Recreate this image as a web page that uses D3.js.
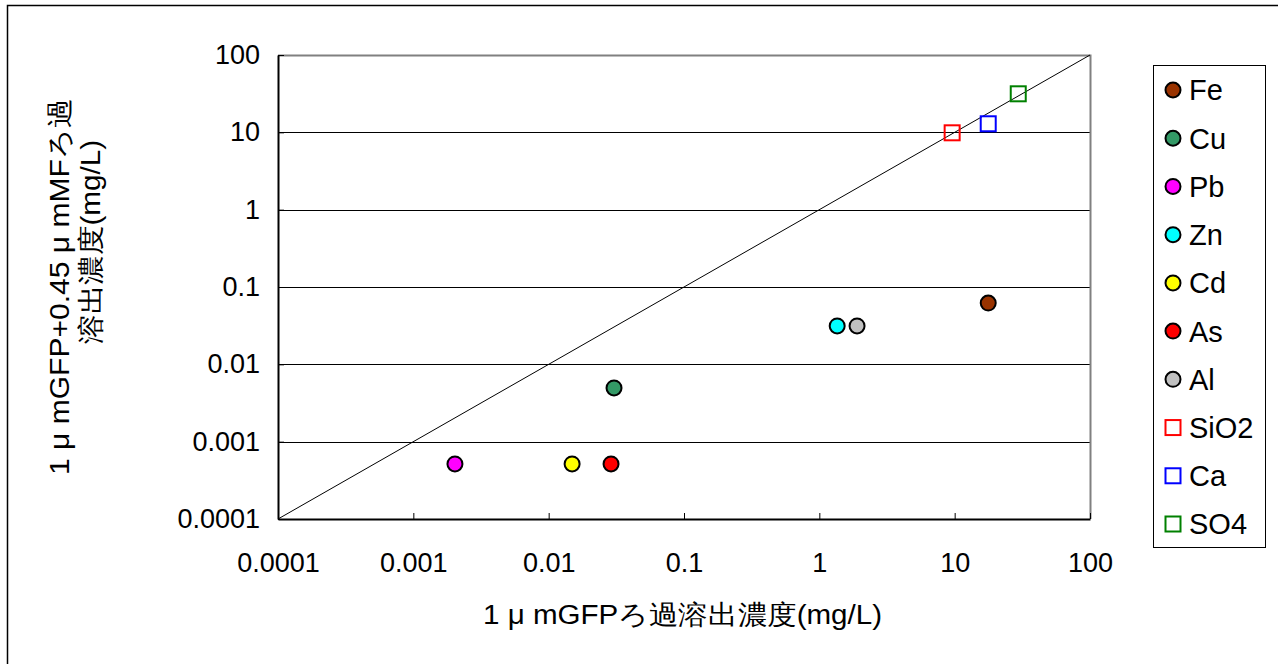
<!DOCTYPE html>
<html>
<head>
<meta charset="utf-8">
<script src="https://cdn.jsdelivr.net/npm/d3@7"></script>
<style>
  body { margin: 0; background: #fff; }
  text { font-family: "Liberation Sans", Arial, sans-serif; fill: #000; }
</style>
</head>
<body>
<div id="chart"></div>
<script>
// data
var names   = ["Fe", "Cu", "Pb", "Zn", "Cd", "As", "Al", "SiO2", "Ca", "SO4"];
var xValues = [17.7, 0.0304, 0.00203, 1.355, 0.0149, 0.0289, 1.90, 9.58, 17.7, 29.5];
var yValues = [0.062, 0.00495, 0.000515, 0.0314, 0.000515, 0.000515, 0.0314, 9.86, 12.9, 31.5];
var shapes  = ["circle", "circle", "circle", "circle", "circle", "circle", "circle", "square", "square", "square"];
var colors  = ["#993300", "#339966", "#ff00ff", "#00ffff", "#ffff00", "#ff0000", "#c0c0c0", "#ff0000", "#0000ff", "#008000"];
var tickValues = [0.0001, 0.001, 0.01, 0.1, 1, 10, 100];
var tickLabels = ["0.0001", "0.001", "0.01", "0.1", "1", "10", "100"];

var width = 1278, height = 664;
var margin = {top: 55, right: 188, bottom: 145, left: 278};

var svg = d3.select("#chart").append("svg")
    .attr("width", width)
    .attr("height", height);

// outer frame of the chart object (cut off at right / bottom)
svg.append("rect")
    .attr("x", 7.5).attr("y", 5.5)
    .attr("width", width + 20).attr("height", height + 20)
    .attr("fill", "none").attr("stroke", "#000").attr("stroke-width", 1.5);

var x = d3.scaleLog()
    .domain([0.0001, 100])
    .range([margin.left, width - margin.right]);

var y = d3.scaleLog()
    .domain([0.0001, 100])
    .range([height - margin.bottom, margin.top]);

var g = svg.append("g");

// horizontal grid lines
g.selectAll(".grid")
    .data(tickValues.slice(1, -1))
    .enter().append("line")
    .attr("class", "grid")
    .attr("x1", x.range()[0]).attr("x2", x.range()[1])
    .attr("y1", function(d){ return Math.round(y(d)) + 0.5; })
    .attr("y2", function(d){ return Math.round(y(d)) + 0.5; })
    .attr("stroke", "#000").attr("stroke-width", 1);

// top and right border (gray)
g.append("path")
    .attr("d", "M" + x.range()[0] + "," + (y.range()[1] + 0.5) +
               "H" + (x.range()[1] + 0.5) +
               "V" + y.range()[0])
    .attr("fill", "none").attr("stroke", "#808080").attr("stroke-width", 2);

// 1:1 line
g.append("line")
    .attr("x1", x(0.0001)).attr("y1", y(0.0001))
    .attr("x2", x(100)).attr("y2", y(100))
    .attr("stroke", "#000").attr("stroke-width", 1);

// axes
var xAxis = d3.axisBottom(x)
    .tickValues(tickValues)
    .tickFormat(function(d, i){ return tickLabels[i]; })
    .tickSizeInner(-6).tickSizeOuter(0).tickPadding(34);

var yAxis = d3.axisLeft(y)
    .tickValues(tickValues)
    .tickFormat(function(d, i){ return tickLabels[i]; })
    .tickSizeInner(-6).tickSizeOuter(0).tickPadding(18);

var gx = g.append("g")
    .attr("transform", "translate(0," + y.range()[0] + ")")
    .call(xAxis);
var gy = g.append("g")
    .attr("transform", "translate(" + x.range()[0] + ",0)")
    .call(yAxis);

[gx, gy].forEach(function(a){
    a.select(".domain").attr("stroke", "#000").attr("stroke-width", 2);
    a.selectAll(".tick line").attr("stroke", "#000").attr("stroke-width", 1);
    a.selectAll(".tick text")
        .style("font-family", "'Liberation Sans', Arial, sans-serif")
        .style("font-size", "27px").attr("fill", "#000");
});

// points
function drawMarker(sel, shape, color, cx, cy){
    if (shape === "circle") {
        sel.append("circle")
            .attr("cx", cx).attr("cy", cy).attr("r", 7.5)
            .attr("fill", color).attr("stroke", "#000").attr("stroke-width", 2);
    } else {
        sel.append("rect")
            .attr("x", cx - 7.5).attr("y", cy - 7.5)
            .attr("width", 15).attr("height", 15)
            .attr("fill", "none").attr("stroke", color).attr("stroke-width", 2);
    }
}

var pts = g.append("g");
names.forEach(function(n, i){
    drawMarker(pts, shapes[i], colors[i], x(xValues[i]), y(yValues[i]));
});

// legend
var legend = svg.append("g");
legend.append("rect")
    .attr("x", 1153.5).attr("y", 65.5)
    .attr("width", 112).attr("height", 482)
    .attr("fill", "#fff").attr("stroke", "#000").attr("stroke-width", 1);

var ly = d3.scalePoint()
    .domain(names)
    .range([90, 524]);

names.forEach(function(n, i){
    drawMarker(legend, shapes[i], colors[i], 1173, ly(n));
    legend.append("text")
        .attr("x", 1189).attr("y", ly(n))
        .attr("dy", "0.36em")
        .style("font-size", "29px")
        .text(n);
});

// axis titles
svg.append("text")
    .attr("x", 483)
    .attr("y", 624)
    .attr("textLength", 399)
    .attr("lengthAdjust", "spacingAndGlyphs")
    .style("font-size", "27px")
    .text("1 μ mGFPろ過溶出濃度(mg/L)");

var yt = svg.append("text")
    .attr("transform", "rotate(-90)")
    .style("font-size", "27px");
yt.append("tspan")
    .attr("x", -475).attr("y", 69)
    .attr("textLength", 377).attr("lengthAdjust", "spacingAndGlyphs")
    .text("1 μ mGFP+0.45 μ mMFろ過");
yt.append("tspan")
    .attr("x", -344).attr("y", 100)
    .attr("textLength", 204).attr("lengthAdjust", "spacingAndGlyphs")
    .text("溶出濃度(mg/L)");
</script>
</body>
</html>
